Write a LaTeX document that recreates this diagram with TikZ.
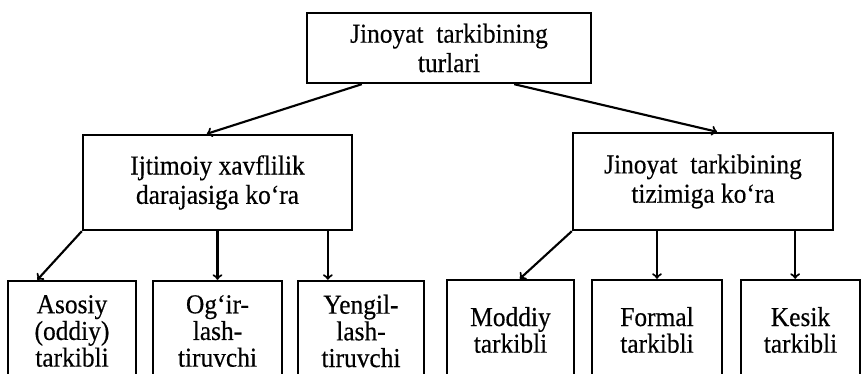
\documentclass[tikz,border=0pt]{standalone}
\usepackage{fontspec}
\setmainfont{Liberation Serif}[FakeStretch=0.93,FakeBold=0.4]
\usetikzlibrary{arrows}

\begin{document}
\begin{tikzpicture}[x=0.75pt,y=0.75pt,yscale=-1,xscale=1,
  box/.style={draw, line width=1.8pt, align=center, inner sep=0pt, font=\fontsize{20.5}{22}\selectfont},
  leaf/.style={box, minimum height=75pt, font=\fontsize{20.5}{20}\selectfont},
  link/.style={->, line width=1.6pt}]
\useasboundingbox (0,0) rectangle (865,374);

% Top node
\node [box, minimum width=213pt, minimum height=52.5pt] (top) at (449,48) {Jinoyat\ \ tarkibining\\turlari};

% Second level
\node [box, minimum width=201.75pt, minimum height=71.25pt] (midL) at (217.5,182.5) {Ijtimoiy xavflilik\\darajasiga ko‘ra};
\node [box, minimum width=195pt, minimum height=72.75pt] (midR) at (703,181.5) {Jinoyat\ \ tarkibining\\tizimiga ko‘ra};

% Bottom level (cut off by the page edge)
\node [leaf, minimum width=96pt] (asosiy) at (72,331) {Asosiy\\(oddiy)\\tarkibli};
\node [leaf, minimum width=96.75pt] (ogir) at (217.5,331) {Og‘ir-\\lash-\\tiruvchi};
\node [leaf, minimum width=94.5pt] (yengil) at (361,331) {Yengil-\\lash-\\tiruvchi};
\node [leaf, minimum width=95.25pt] (moddiy) at (510.5,330) {Moddiy\\tarkibli};
\node [leaf, minimum width=97.5pt] (formal) at (657,330) {Formal\\tarkibli};
\node [leaf, minimum width=89.25pt] (kesik) at (800.5,330) {Kesik\\tarkibli};

% Connectors
\draw [link] ([xshift=42pt]top.south west) -- ([xshift=-8pt]midL.north);
\draw [link] ([xshift=-58.5pt]top.south east) -- ([xshift=10.5pt]midR.north);

\draw [link] (midL.south west) -- ([xshift=-26pt]asosiy.north);
\draw [link] (midL.south -| ogir.north) -- (ogir.north);
\draw [link] ([xshift=-19pt]midL.south east) -- ([xshift=-19pt]midL.south east |- yengil.north);

\draw [link] (midR.south west) -- ([xshift=7pt]moddiy.north);
\draw [link] (midR.south -| formal.north) -- (formal.north);
\draw [link] ([xshift=-4pt]kesik.north |- midR.south) -- ([xshift=-4pt]kesik.north);

\end{tikzpicture}
\end{document}
